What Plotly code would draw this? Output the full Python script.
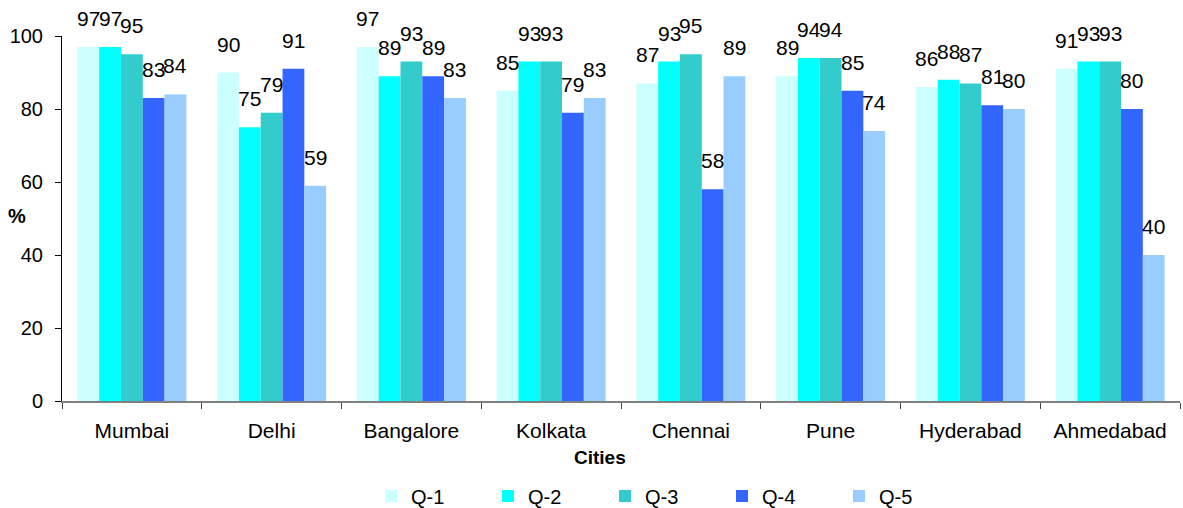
import plotly.graph_objects as go

# Survey results by city (percent), one series per question
cities = ["Mumbai", "Delhi", "Bangalore", "Kolkata", "Chennai", "Pune", "Hyderabad", "Ahmedabad"]
q1 = [97, 90, 97, 85, 87, 89, 86, 91]
q2 = [97, 75, 89, 93, 93, 94, 88, 93]
q3 = [95, 79, 93, 93, 95, 94, 87, 93]
q4 = [83, 91, 89, 79, 58, 85, 81, 80]
q5 = [84, 59, 83, 83, 89, 74, 80, 40]
series_names = ["Q-1", "Q-2", "Q-3", "Q-4", "Q-5"]
series_values = [q1, q2, q3, q4, q5]
colors = ["#CCFFFF", "#00FFFF", "#33CCCC", "#3366FF", "#99CCFF"]

FONT = "Liberation Sans, Arial, sans-serif"
W, H = 1183, 508
ML, MR, MT, MB = 62, 3, 36, 107
BARGAP = 0.22

fig = go.Figure()
for name, vals, col in zip(series_names, series_values, colors):
    fig.add_trace(go.Bar(x=cities, y=vals, name=name, marker_color=col,
                         marker_line_width=0, cliponaxis=False))

# value labels above each bar, offset sideways to sit over their bar
plot_w = W - ML - MR
plot_h = H - MT - MB
cat_w = plot_w / len(cities)
bar_w = cat_w * (1 - BARGAP) / len(series_names)
for i, vals in enumerate(series_values):
    for c, v in zip(cities, vals):
        fig.add_annotation(x=c, y=v, text=str(v), showarrow=False,
                           xanchor="center", yanchor="bottom",
                           xshift=(i - 2) * bar_w, yshift=15,
                           font=dict(family=FONT, size=21, color="black"))

fig.add_annotation(x=(600 - ML) / plot_w, y=-56 / plot_h, xref="paper", yref="paper",
                   text="<b>Cities</b>", showarrow=False, yanchor="middle",
                   font=dict(family=FONT, size=19, color="black"))
fig.add_annotation(x=-0.04, y=0.507, xref="paper", yref="paper",
                   text="<b>%</b>", showarrow=False, xanchor="center", yanchor="middle",
                   font=dict(family=FONT, size=20, color="black"))

fig.update_layout(
    width=W, height=H,
    margin=dict(l=ML, r=MR, t=MT, b=MB, autoexpand=False),
    paper_bgcolor="white", plot_bgcolor="white",
    barmode="group", bargap=BARGAP, bargroupgap=0,
    font=dict(family=FONT, size=21, color="black"),
    showlegend=True,
    legend=dict(orientation="h", x=(371 - ML) / plot_w, xanchor="left",
                y=-95 / plot_h, yanchor="middle", entrywidth=72, entrywidthmode="pixels",
                maxheight=80,
                font=dict(family=FONT, size=20, color="black"),
                traceorder="normal", itemclick=False),
    xaxis=dict(showline=True, linecolor="#808080", linewidth=1.5,
               ticks="outside", tickson="boundaries", ticklen=6, tickcolor="#404040",
               showgrid=False, tickfont=dict(size=21), ticklabelstandoff=10),
    yaxis=dict(range=[0, 100], dtick=20, showline=True, linecolor="black", linewidth=1,
               ticks="outside", ticklen=6, tickcolor="black", showgrid=False,
               zeroline=False, tickfont=dict(size=20), ticklabelstandoff=8),
)

fig.write_html("out.html")
